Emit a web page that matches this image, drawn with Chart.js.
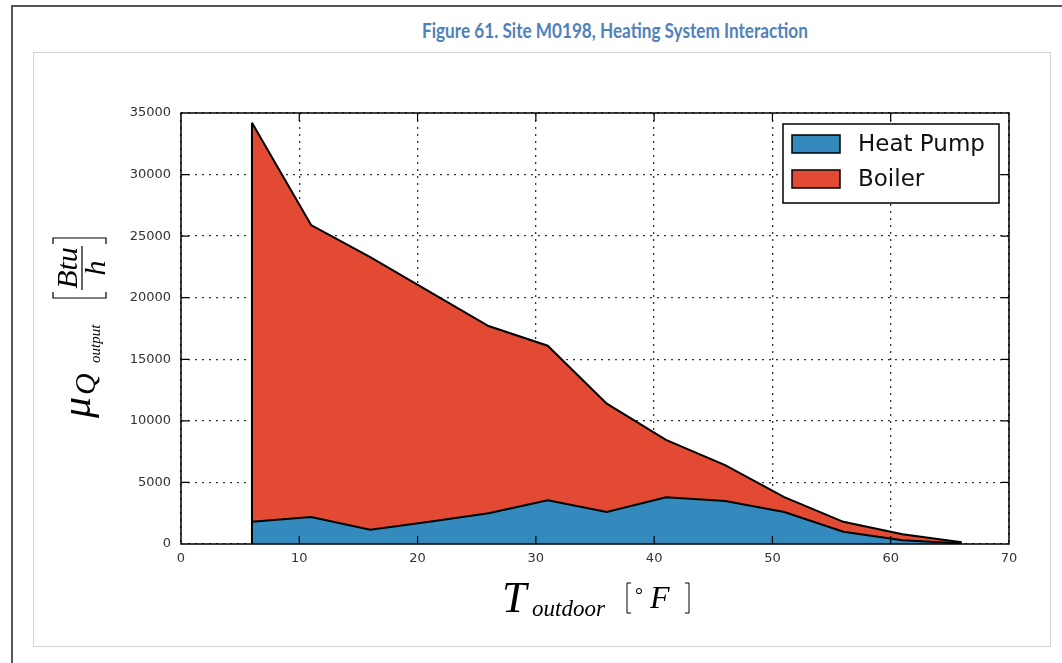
<!DOCTYPE html>
<html>
<head>
<meta charset="utf-8">
<title>Figure 61. Site M0198, Heating System Interaction</title>
<script src="https://cdn.jsdelivr.net/npm/chart.js"></script>
<style>
  body { margin: 0; background: #fff; }
  #page { position: relative; width: 1062px; height: 663px; overflow: hidden; }
  #frame { position: absolute; left: 11px; top: 5px; width: 1100px; height: 700px; border-left: 2px solid #555; border-top: 2px solid #555; }
  #title { position: absolute; left: 422px; top: 18px; font: bold 20px Lato, "Open Sans", sans-serif; color: #4f81bd; white-space: nowrap; transform-origin: 0 0; }
  #box { position: absolute; left: 33px; top: 52px; width: 1016px; height: 593px; border: 1px solid #d4d4d4; }
  #c { position: absolute; left: 0; top: 0; }
</style>
</head>
<body>
<div id="page">
  <div id="frame"></div>
  <div id="title">Figure 61. Site M0198, Heating System Interaction</div>
  <div id="box"></div>
  <canvas id="c" width="1062" height="663"></canvas>
</div>

<script>
  // outdoor temperature bins (°F) and mean output (Btu/h)
  const temps    = [6, 11, 16, 21, 26, 31, 36, 41, 46, 51, 56, 61, 66];
  const heatPump = [1800, 2200, 1150, 1800, 2500, 3550, 2600, 3800, 3500, 2600, 1000, 300, 50];
  const boiler   = [32400, 23700, 22150, 18700, 15200, 12550, 8800, 4650, 2900, 1200, 800, 500, 100];
  const seriesNames  = ['Heat Pump', 'Boiler'];
  const seriesColors = ['#348abd', '#e24a33'];
  const xTickValues = [0, 10, 20, 30, 40, 50, 60, 70];
  const yTickValues = [0, 5000, 10000, 15000, 20000, 25000, 30000, 35000];

  // squeeze the caption a little to the narrow width of the original heading font
  const titleEl = document.getElementById('title');
  titleEl.style.transform = 'scaleX(' + (386 / titleEl.offsetWidth) + ')';

  const tickFont = { family: 'DejaVu Sans', size: 13 };

  function pts(arr) {
    return temps.map((t, i) => ({ x: t, y: arr[i] }));
  }

  // frame, inward ticks, legend, math-style axis titles
  const decor = {
    id: 'decor',
    afterDatasetsDraw(chart) {
      const { ctx, scales: { x, y } } = chart;
      // left vertical edge of the stacked area
      ctx.save();
      ctx.strokeStyle = '#000';
      ctx.lineWidth = 2;
      ctx.beginPath();
      ctx.moveTo(x.getPixelForValue(temps[0]), y.getPixelForValue(0));
      ctx.lineTo(x.getPixelForValue(temps[0]), y.getPixelForValue(heatPump[0] + boiler[0]));
      ctx.stroke();
      ctx.restore();
    },
    afterDraw(chart) {
      const { ctx, chartArea: a, scales: { x, y } } = chart;
      ctx.save();
      ctx.strokeStyle = '#000';
      ctx.lineWidth = 1.5;
      ctx.strokeRect(a.left, a.top, a.right - a.left, a.bottom - a.top);

      // inward tick marks on all four sides
      ctx.lineWidth = 1.2;
      ctx.beginPath();
      xTickValues.slice(1, -1).forEach(v => {
        const px = x.getPixelForValue(v);
        ctx.moveTo(px, a.bottom); ctx.lineTo(px, a.bottom - 8);
        ctx.moveTo(px, a.top); ctx.lineTo(px, a.top + 8);
      });
      yTickValues.slice(1, -1).forEach(v => {
        const py = y.getPixelForValue(v);
        ctx.moveTo(a.left, py); ctx.lineTo(a.left + 8, py);
        ctx.moveTo(a.right, py); ctx.lineTo(a.right - 8, py);
      });
      ctx.stroke();

      // legend
      const lx = a.right - 226, ly = a.top + 11;
      ctx.fillStyle = '#fff';
      ctx.fillRect(lx, ly, 216, 79);
      ctx.lineWidth = 1.5;
      ctx.strokeRect(lx, ly, 216, 79);
      ctx.font = '23px "DejaVu Sans"';
      ctx.textBaseline = 'middle';
      seriesNames.forEach((name, i) => {
        const ry = ly + 11 + i * 35;
        ctx.fillStyle = seriesColors[i];
        ctx.fillRect(lx + 9, ry, 48, 18);
        ctx.strokeRect(lx + 9, ry, 48, 18);
        ctx.fillStyle = '#111';
        ctx.fillText(name, lx + 75, ry + 10);
      });

      // y title: mu_{Q_output} [Btu/h]
      const serif = '"Liberation Serif", "DejaVu Serif", serif';
      ctx.fillStyle = '#000';
      ctx.textBaseline = 'alphabetic';
      ctx.save();
      ctx.translate(90, 418);
      ctx.rotate(-Math.PI / 2);
      ctx.font = 'italic 42px ' + serif;
      ctx.fillText('μ', 0, 0);
      ctx.font = 'italic 30px ' + serif;
      ctx.fillText('Q', 23, 5);
      ctx.font = 'italic 15px ' + serif;
      ctx.fillText('output', 55, 10);
      ctx.lineWidth = 1.2;
      ctx.beginPath();
      ctx.moveTo(126, -37); ctx.lineTo(120, -37); ctx.lineTo(120, 16); ctx.lineTo(126, 16);
      ctx.moveTo(174, -37); ctx.lineTo(180, -37); ctx.lineTo(180, 16); ctx.lineTo(174, 16);
      ctx.moveTo(128, -8); ctx.lineTo(172, -8);
      ctx.stroke();
      ctx.textAlign = 'center';
      ctx.font = 'italic 30px ' + serif;
      ctx.fillText('Btu', 150, -13);
      ctx.fillText('h', 150, 15);
      ctx.restore();

      // x title: T_outdoor [°F]
      ctx.textAlign = 'left';
      ctx.font = 'italic 44px ' + serif;
      ctx.fillText('T', 502, 612);
      ctx.font = 'italic 23px ' + serif;
      ctx.fillText('outdoor', 532, 616);
      ctx.lineWidth = 1;
      ctx.beginPath();
      ctx.moveTo(631, 583); ctx.lineTo(627, 583); ctx.lineTo(627, 613); ctx.lineTo(631, 613);
      ctx.moveTo(685, 583); ctx.lineTo(689, 583); ctx.lineTo(689, 613); ctx.lineTo(685, 613);
      ctx.stroke();
      ctx.font = '20px ' + serif;
      ctx.fillText('°', 635, 602);
      ctx.font = 'italic 32px ' + serif;
      ctx.fillText('F', 650, 608);
      ctx.restore();
    }
  };

  new Chart(document.getElementById('c'), {
    type: 'line',
    data: {
      datasets: [
        {
          label: seriesNames[0],
          data: pts(heatPump),
          backgroundColor: seriesColors[0],
          borderColor: '#000',
          borderWidth: 2,
          fill: 'origin',
          pointRadius: 0,
          tension: 0
        },
        {
          label: seriesNames[1],
          data: pts(boiler),
          backgroundColor: seriesColors[1],
          borderColor: '#000',
          borderWidth: 2,
          fill: '-1',
          pointRadius: 0,
          tension: 0
        }
      ]
    },
    options: {
      responsive: false,
      animation: false,
      layout: { padding: { top: 113, right: 53, left: 0, bottom: 0 } },
      plugins: { legend: { display: false }, tooltip: { enabled: false } },
      scales: {
        x: {
          type: 'linear',
          min: 0,
          max: 70,
          z: 1,
          afterBuildTicks: s => { s.ticks = xTickValues.map(v => ({ value: v })); },
          afterFit: s => { s.height = 119; },
          grid: { color: '#333', lineWidth: 1.3, drawTicks: false },
          border: { display: false, dash: [2, 5] },
          ticks: { font: tickFont, color: '#333', padding: 7, maxRotation: 0, autoSkip: false, callback: v => String(v) }
        },
        y: {
          stacked: true,
          min: 0,
          max: 35000,
          z: 1,
          afterBuildTicks: s => { s.ticks = yTickValues.map(v => ({ value: v })); },
          afterFit: s => { s.width = 181; },
          grid: { color: '#333', lineWidth: 1.3, drawTicks: false },
          border: { display: false, dash: [2, 5] },
          ticks: { font: tickFont, color: '#333', padding: 10, autoSkip: false, callback: v => String(v) }
        }
      }
    },
    plugins: [decor]
  });
</script>
</body>
</html>
